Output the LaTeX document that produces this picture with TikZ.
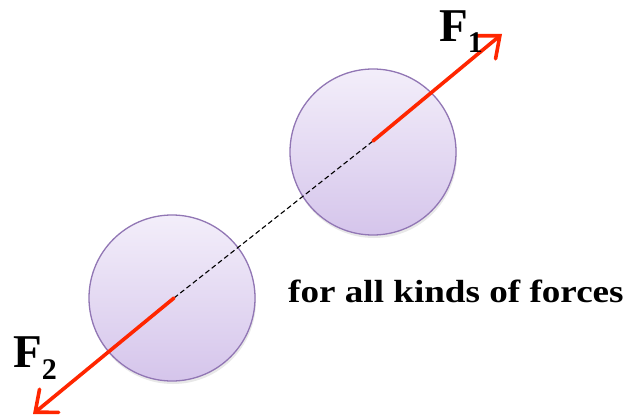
\documentclass[tikz,border=0pt]{standalone}
\usepackage{fontspec}
\setmainfont{Liberation Serif}
\usepackage{tikz}
\usetikzlibrary{arrows.meta, shadows}
\definecolor{ballline}{RGB}{145,118,180}
\definecolor{balltop}{RGB}{243,238,250}
\definecolor{ballbot}{RGB}{213,197,235}
\definecolor{force}{RGB}{255,38,0}

\begin{document}
\begin{tikzpicture}[x=1pt, y=-1pt,
  ball/.style={circle, draw=ballline, line width=1.3pt, top color=balltop,
    bottom color=ballbot, minimum size=166pt, inner sep=0pt,
    drop shadow={opacity=0.18, shadow xshift=1pt, shadow yshift=-3pt}},
  forcearrow/.style={draw=force, line width=3.6pt, line cap=round,
    -{Straight Barb[length=18pt, width=30pt, line cap=round]}},
  lbl/.style={inner sep=0pt, anchor=base west, font=\bfseries\fontsize{47}{47}\selectfont}]
  \useasboundingbox (0,0) rectangle (627,417);
  \node[ball] (m1) at (373,152) {};
  \node[ball] (m2) at (172,298) {};
  \coordinate (p1) at (373,141);
  \coordinate (p2) at (174,298);
  \coordinate (t1) at (502,34);
  \coordinate (t2) at (33,414);
  \draw[dashed, line width=1.1pt, dash pattern=on 5pt off 3pt] (p2) -- (p1);
  \draw[forcearrow] (p1) -- (t1);
  \draw[forcearrow] (p2) -- (t2);
  \node[lbl] (f1) at (439,42) {F\raisebox{-11pt}{\fontsize{30}{30}\selectfont 1}};
  \node[lbl] (f2) at (13,367) {F\raisebox{-12pt}{\fontsize{30}{30}\selectfont 2}};
  \node[lbl, font=\bfseries\fontsize{32}{32}\selectfont] (txt) at (288,302)
    {\scalebox{1.16}[1]{for all kinds of forces}};
\end{tikzpicture}
\end{document}
